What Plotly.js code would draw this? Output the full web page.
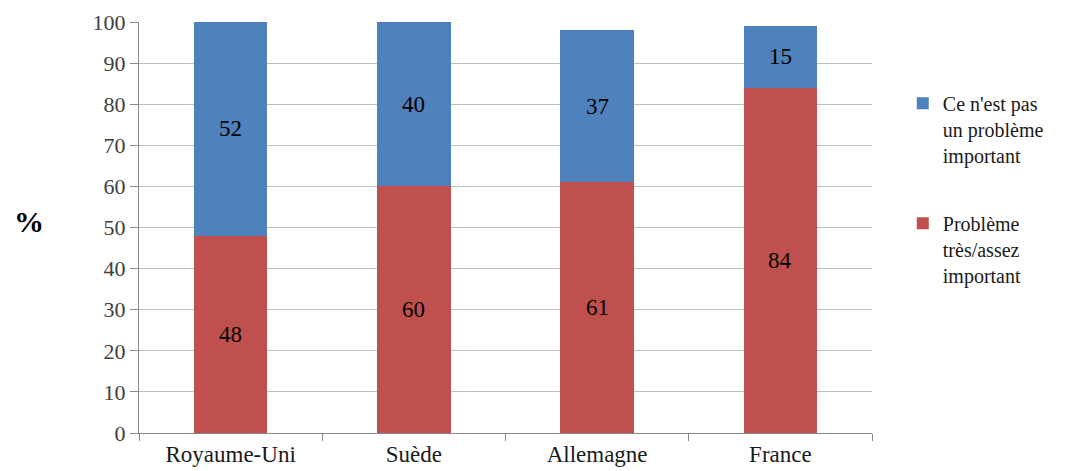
<!DOCTYPE html>
<html>
<head>
<meta charset="utf-8">
<script src="https://cdn.plot.ly/plotly-3.0.1.min.js"></script>
<style>
html,body{margin:0;padding:0;background:#fff;}
#chart{width:1085px;height:471px;}
</style>
</head>
<body>
<div id="chart"></div>
<script>
const categories = ["Royaume-Uni", "Suède", "Allemagne", "France"];
const important = [48, 60, 61, 84];
const notImportant = [52, 40, 37, 15];
const seriesNames = ["Problème<br>très/assez<br>important", "Ce n'est pas<br>un problème<br>important"];
const yTicks = [0, 10, 20, 30, 40, 50, 60, 70, 80, 90, 100];

const FONT = "Liberation Serif";

const traces = [
  {
    type: "bar", x: categories, y: important, name: seriesNames[0], legendgroup: "a", legendrank: 2,
    marker: {color: "#C0504D"}, width: 0.4, hoverinfo: "none"
  },
  {
    type: "bar", x: categories, y: notImportant, name: seriesNames[1], legendgroup: "b", legendrank: 1,
    marker: {color: "#4F81BD"}, width: 0.4, hoverinfo: "none"
  }
];

// value labels centred in each stacked segment, placed in data coordinates
const valueLabels = [];
categories.forEach((c, i) => {
  valueLabels.push({x: c, y: important[i] / 2, text: String(important[i])});
  valueLabels.push({x: c, y: important[i] + notImportant[i] / 2, text: String(notImportant[i])});
});

const annotations = valueLabels.map(v => ({
  x: v.x, y: v.y, xref: "x", yref: "y", text: v.text, showarrow: false,
  xanchor: "center", yanchor: "middle",
  font: {family: FONT, size: 23, color: "#000"}
}));
annotations.push({
  text: "<b>%</b>", xref: "paper", yref: "paper", x: -0.15, y: 0.515,
  xanchor: "center", yanchor: "middle", showarrow: false,
  font: {family: FONT, size: 30, color: "#000"}
});

const layout = {
  width: 1085, height: 471,
  barmode: "stack",
  margin: {l: 139, r: 213, t: 22, b: 38, pad: 0},
  paper_bgcolor: "#fff", plot_bgcolor: "#fff",
  font: {family: FONT, size: 18, color: "#000"},
  xaxis: {
    type: "category", range: [-0.5, 3.5],
    showline: true, linecolor: "#888", linewidth: 1,
    ticks: "outside", tickson: "boundaries", ticklen: 7, tickcolor: "#888",
    tickfont: {family: FONT, size: 23, color: "#1a1a1a"},
    showgrid: false, zeroline: false
  },
  yaxis: {
    range: [0, 100], tickvals: yTicks, ticktext: yTicks.map(String),
    showline: true, linecolor: "#888", linewidth: 1,
    ticks: "outside", ticklen: 8, tickcolor: "#888",
    tickfont: {family: FONT, size: 22, color: "#404040"},
    showgrid: true, gridcolor: "#C0C0C0", gridwidth: 1.2, zeroline: false
  },
  annotations: annotations,
  showlegend: true,
  legend: {
    x: 1.042, y: 0.85, xanchor: "left", yanchor: "top",
    traceorder: "grouped", valign: "top", tracegroupgap: 39,
    font: {family: FONT, size: 20, color: "#1a1a1a"},
    itemwidth: 30, bgcolor: "rgba(0,0,0,0)"
  }
};

Plotly.newPlot("chart", traces, layout, {displayModeBar: false});
</script>
</body>
</html>
